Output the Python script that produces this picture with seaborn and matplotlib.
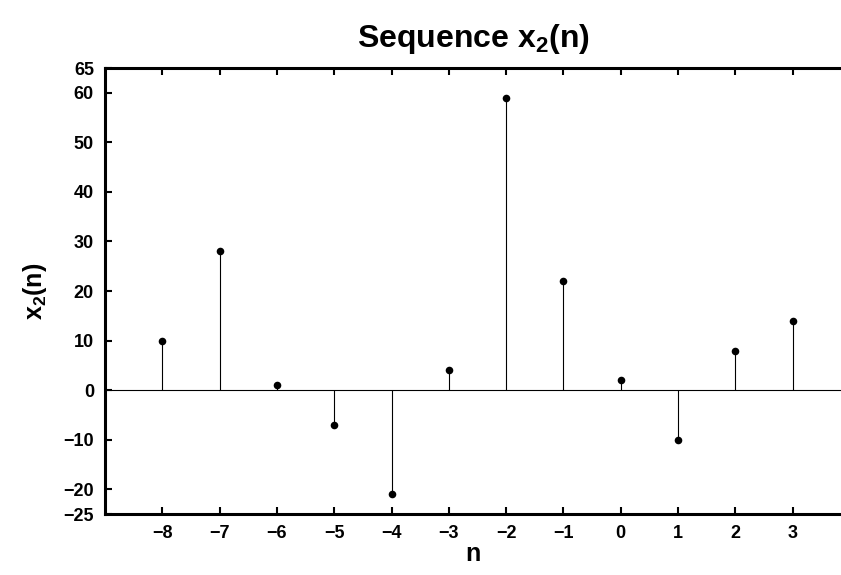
import numpy as np
import pandas as pd
import matplotlib
matplotlib.use("Agg")
import matplotlib.pyplot as plt
import seaborn as sns

n = [-8, -7, -6, -5, -4, -3, -2, -1, 0, 1, 2, 3]
x2 = [10, 28, 1, -7, -21, 4, 59, 22, 2, -10, 8, 14]
xticks = [-8, -7, -6, -5, -4, -3, -2, -1, 0, 1, 2, 3]
yticks = [-25, -20, -10, 0, 10, 20, 30, 40, 50, 60, 65]

sns.set_style("ticks", {"text.color": "black", "axes.labelcolor": "black",
                        "xtick.color": "black", "ytick.color": "black",
                        "axes.edgecolor": "black"})
plt.rcParams['font.family'] = ['Liberation Sans', 'DejaVu Sans']
plt.rcParams['mathtext.fontset'] = 'custom'
plt.rcParams['mathtext.rm'] = 'Liberation Sans'
plt.rcParams['mathtext.bf'] = 'Liberation Sans:bold'
plt.rcParams['mathtext.it'] = 'Liberation Sans:italic'

df = pd.DataFrame({"n": n, "x2": x2})

fig = plt.figure(figsize=(8.41, 5.75), dpi=100)
ax = fig.add_axes([0.1249, 0.106, 0.8751, 0.7757])

ax.vlines(df["n"], 0, df["x2"], color="black", linewidth=0.8)
sns.scatterplot(data=df, x="n", y="x2", ax=ax, color="black", s=30,
                edgecolor="black", linewidth=0, zorder=3)
ax.axhline(0, color="black", linewidth=0.8)

ax.set_xlim(-9, 3.845)
ax.set_ylim(-25, 65)
ax.set_xticks(xticks)
ax.set_yticks(yticks)
ax.tick_params(direction="in", width=1.5, length=5, labelsize=13,
               top=True, right=False, pad=8, colors="black")
for lab in ax.get_xticklabels() + ax.get_yticklabels():
    lab.set_fontweight("bold")
for side in ["left", "bottom", "top"]:
    ax.spines[side].set_visible(True)
    ax.spines[side].set_linewidth(2.2)
    ax.spines[side].set_color("black")
ax.spines["right"].set_visible(False)

ax.set_xlabel("n", fontsize=18, fontweight="bold", labelpad=0, color="black")
ax.set_ylabel(r"$\mathbf{x_2(n)}$", fontsize=18, labelpad=10, color="black")
ax.set_title(r"$\mathbf{Sequence\ x_2(n)}$", fontsize=23, pad=15, color="black")

fig.savefig("out.png", dpi=100)
